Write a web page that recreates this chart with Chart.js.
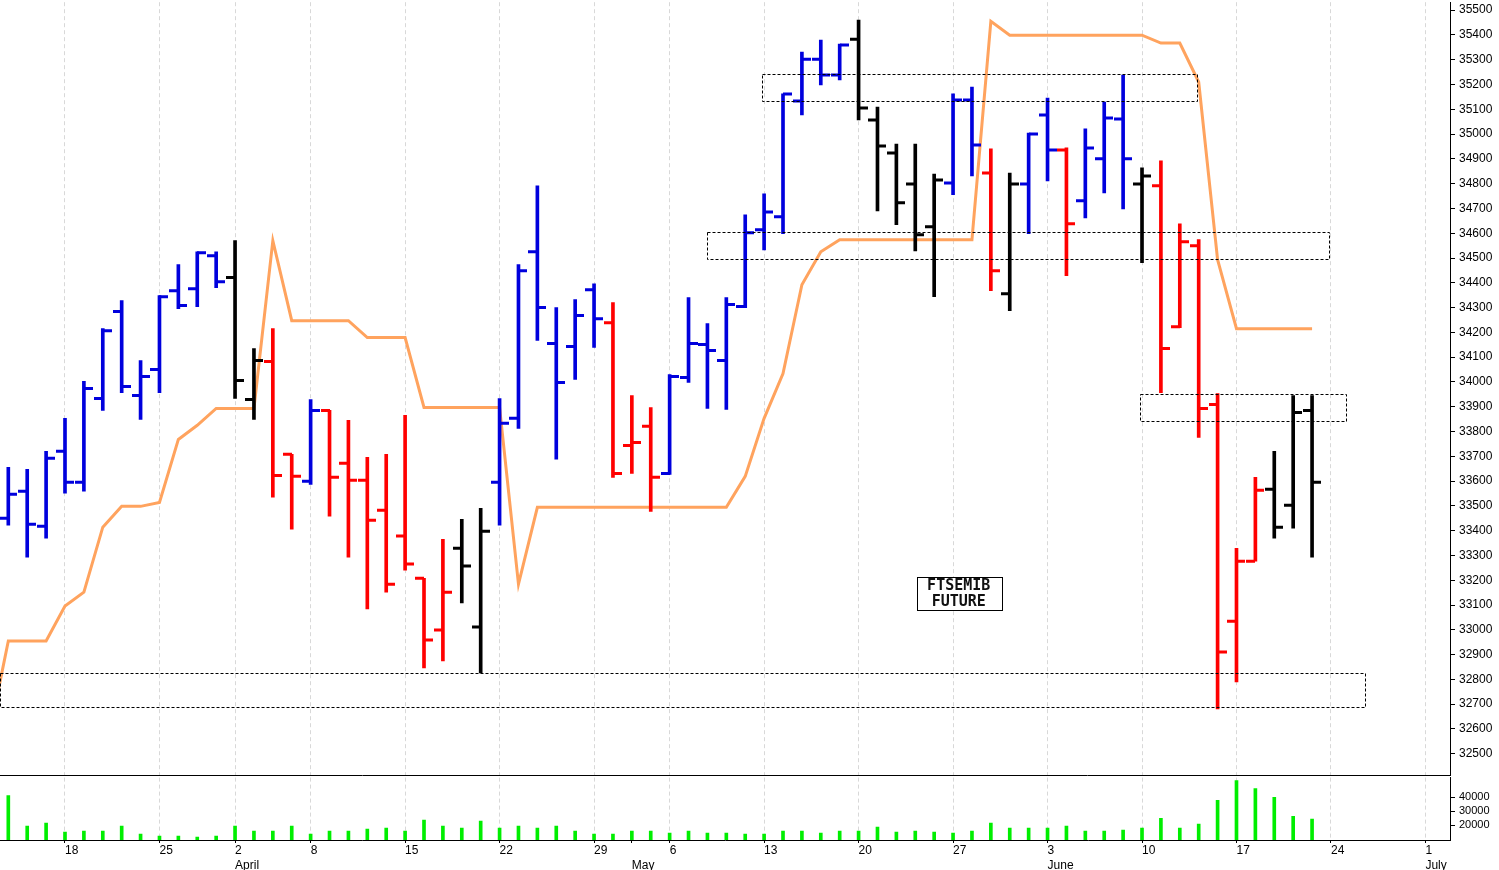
<!DOCTYPE html>
<html><head><meta charset="utf-8">
<script src="https://cdn.jsdelivr.net/npm/chart.js@4/dist/chart.umd.min.js"></script>
<style>
html,body{margin:0;padding:0;background:#fff;width:1499px;height:870px;overflow:hidden;position:relative}
canvas{position:absolute;left:0}
#main{top:-9px}
#vol{top:767px}
</style></head><body>
<canvas id="vol" width="1499" height="106"></canvas>
<canvas id="main" width="1499" height="796"></canvas>
<script>
// trading-day index 0 = 13 Mar 2024 ... 69 = 21 Jun 2024
const highs = [33655,33647,33720,33853,34002,34215,34328,34086,34348,34473,34525,34525,34570,34135,34215,33708,33929,33885,33845,33696,33708,33865,33208,33365,33446,33490,33933,34473,34791,34300,34332,34396,34320,33945,33897,34030,34340,34235,34340,34674,34759,35162,35331,35379,35363,35460,35109,34960,34960,34839,35162,35190,34940,34843,35004,35145,34944,35021,35129,35238,34864,34892,34638,34574,33953,33329,33615,33720,33945,33945];
const lows = [33422,33293,33370,33551,33559,33885,33957,33849,33957,34296,34304,34380,33933,33849,33535,33406,33587,33458,33293,33084,33152,33241,32846,32874,33108,32826,33422,33812,34167,33688,34010,34139,33615,33631,33478,33627,33998,33893,33889,34300,34533,34598,35077,35198,35218,35057,34690,34634,34529,34344,34755,34831,34368,34288,34598,34811,34429,34662,34763,34698,34481,33957,34219,33776,32681,32790,33277,33370,33410,33293];
const opens = [33450,33559,33418,33720,33595,33933,34284,33945,34050,34368,34376,34509,34421,33929,34082,33708,33599,33885,33672,33603,33482,33378,33208,32999,33329,33011,33595,33853,34525,34155,34143,34372,34239,33744,33821,33631,34018,34151,34086,34304,34614,34666,35133,35302,35238,35383,35057,34924,34799,34626,34803,35137,34843,34356,34799,35077,34936,34731,34900,35061,34799,34791,34223,34549,33909,33035,33277,33567,33502,33885];
const closes = [33547,33426,33692,33595,33974,34207,33982,34022,34344,34308,34521,34404,34006,34086,33623,33619,33885,33615,33603,33442,33184,33265,32959,33152,33257,33398,33833,34449,34300,33998,34268,34255,33631,33756,33615,34022,34155,34127,34312,34602,34686,35162,35302,35238,35359,35105,34952,34723,34594,34815,35137,34956,34449,34799,35000,34936,34638,34944,35065,34900,34831,34135,34566,33893,32910,33277,33563,33414,33877,33595];
const barColors = "BBBBBBBBBBBBKKRRBRRRRRRRKKBBBBBBRRRBBBBBBBBBBKKKKKBBRKBBRBBBKRRRRRRKKK";
// trendLine starts at index -1
const trendLine = [32580,32955,32955,32955,33096,33152,33414,33498,33498,33514,33768,33825,33893,33893,33893,34570,34247,34247,34247,34247,34179,34179,34179,33897,33897,33897,33897,33897,33184,33494,33494,33494,33494,33494,33494,33494,33494,33494,33494,33494,33619,33853,34034,34392,34525,34574,34574,34574,34574,34574,34574,34574,34574,35455,35399,35399,35399,35399,35399,35399,35399,35399,35367,35367,35210,34493,34215,34215,34215,34215,34215];
const volumes = [41400,19300,21400,15000,15700,15700,19300,13600,12100,12100,11400,12100,19300,15700,15700,19300,13600,15700,15700,17100,17900,15700,23600,19300,17900,22900,17900,19300,17900,19300,15700,13600,13600,15700,15700,14300,15700,14300,14300,13600,13600,15700,15700,14300,15700,15700,18600,15000,15700,15000,14300,15700,21400,17900,17900,17900,19300,15700,15700,16400,17900,25000,17900,20700,37900,52100,46400,40000,26400,24300];
const priceTicks = []; for (let p = 32500; p <= 35500; p += 100) priceTicks.push(p);
const volTicks = [20000,30000,40000];
const dateTickIdx = [3,8,12,16,21,26,31,33,35,40,45,50,55,60,65,70,75];
const dateTickDay = ['18','25','2','8','15','22','29','','6','13','20','27','3','10','17','24','1'];
const dateTickMonth = ['','','April','','','','','May','','','','','June','','','','July'];
const boxes = [ // [x0,x1,p0,p1] in trading-day index / price
  [39.9,62.9,35134,35242],[37.0,69.9,34497,34606],[59.9,70.8,33841,33950],[-0.44,71.8,32689,32826]];
const XMIN = -0.44, XMAX = 76.3;
const colMap = {B:'#0000dd', R:'#ff0000', K:'#000000'};

const ohlcPlugin = {
  id:'ohlc',
  afterDatasetsDraw(chart){
    const {ctx, scales:{x,y}, chartArea:a} = chart;
    ctx.save();
    ctx.beginPath(); ctx.rect(a.left,a.top,a.right-a.left,a.bottom-a.top); ctx.clip();
    ctx.lineWidth = 3; ctx.lineCap='butt';
    for (let i=0;i<opens.length;i++){
      const px = Math.round(x.getPixelForValue(i));
      ctx.strokeStyle = colMap[barColors[i]];
      ctx.beginPath();
      let yo = y.getPixelForValue(opens[i]), yc = y.getPixelForValue(closes[i]);
      ctx.moveTo(px-9, yo); ctx.lineTo(px, yo);
      ctx.moveTo(px, yc); ctx.lineTo(px+9, yc);
      ctx.stroke();
    }
    ctx.lineWidth = 1; ctx.strokeStyle = '#000'; ctx.setLineDash([3,2]);
    for (const b of boxes){
      const x0=x.getPixelForValue(b[0]), x1=x.getPixelForValue(b[1]);
      const y0=y.getPixelForValue(b[3]), y1=y.getPixelForValue(b[2]);
      ctx.strokeRect(Math.round(x0)+0.5, Math.round(y0)+0.5, Math.round(x1-x0), Math.round(y1-y0));
    }
    ctx.setLineDash([]);
    const cx = x.getPixelForValue(50.3), cy = y.getPixelForValue(33148);
    ctx.fillStyle='#fff'; ctx.fillRect(cx-42, cy-16, 85, 33);
    ctx.strokeStyle='#000'; ctx.lineWidth=1; ctx.strokeRect(Math.round(cx-42)+0.5, Math.round(cy-16)+0.5, 85, 33);
    ctx.fillStyle='#111'; ctx.font='bold 15px "DejaVu Sans Mono", monospace'; ctx.textAlign='center'; ctx.textBaseline='middle';
    ctx.fillText('FTSEMIB', cx, cy-7); ctx.fillText('FUTURE', cx, cy+9);
    ctx.restore();
    ctx.save(); ctx.strokeStyle='#000'; ctx.lineWidth=1;
    ctx.beginPath(); ctx.moveTo(0, Math.round(a.bottom)-0.5); ctx.lineTo(a.right, Math.round(a.bottom)-0.5); ctx.stroke();
    ctx.restore();
  }
};

const xCommon = () => ({
  type:'linear', min:XMIN, max:XMAX, offset:false,
  afterBuildTicks(s){ s.ticks = dateTickIdx.map(v=>({value:v})); },
  grid:{ offset:false, color:(c)=> (c.tick && c.tick.value===33) ? 'rgba(0,0,0,0)' : '#d8d8d8', drawTicks:false },
  border:{ display:false, dash:[4,3] }
});

const mainX = xCommon(); mainX.ticks = {display:false}; mainX.display = true;
new Chart(document.getElementById('main'), {
  type:'bar',
  data:{ datasets:[
    { type:'line', data: trendLine.map((v,i)=>({x:i-1,y:v})), borderColor:'#ffa35e', borderWidth:3, pointRadius:0, tension:0, order:2 },
    { type:'bar', data: highs.map((h,i)=>({x:i,y:[lows[i],h]})), backgroundColor: highs.map((h,i)=>colMap[barColors[i]]), barThickness:3, grouped:false, order:1 }
  ]},
  options:{
    responsive:false, animation:false, devicePixelRatio:1,
    plugins:{legend:{display:false}, tooltip:{enabled:false}},
    scales:{
      x: mainX,
      y:{ position:'right', min:32411, max:35532,
          afterBuildTicks(s){ s.ticks = priceTicks.map(v=>({value:v})); },
          afterFit(s){ s.width = 49; },
          grid:{ drawOnChartArea:false, tickLength:5, color:'#000' },
          border:{ display:true, color:'#000' },
          ticks:{ color:'#000', padding:4, font:{family:'"Liberation Sans", Arial', size:12}, callback:v=>String(v) } }
    }
  },
  plugins:[ohlcPlugin]
});

const volX = xCommon();
volX.grid.drawTicks = true; volX.grid.tickLength = 3; volX.grid.tickColor = '#000';
volX.border = {display:true, color:'#000', dash:[4,3]};
volX.ticks = { color:'#000', padding:0, align:'start', maxRotation:0, autoSkip:false,
  font:{family:'"Liberation Sans", Arial', size:12, lineHeight:1.25},
  callback:(v)=>{ const k = dateTickIdx.indexOf(v); return k<0 ? '' : [dateTickDay[k], dateTickMonth[k]]; } };
new Chart(document.getElementById('vol'), {
  type:'bar',
  data:{ datasets:[{ data: volumes.map((v,i)=>({x:i,y:v})), backgroundColor:'#00ee00', barThickness:3 }]},
  options:{
    responsive:false, animation:false, devicePixelRatio:1,
    plugins:{legend:{display:false}, tooltip:{enabled:false}},
    scales:{
      x: volX,
      y:{ position:'right', min:9286, max:54286,
          afterBuildTicks(s){ s.ticks = volTicks.map(v=>({value:v})); },
          afterFit(s){ s.width = 49; },
          grid:{ drawOnChartArea:false, tickLength:5, color:'#000' },
          border:{ display:true, color:'#000' },
          ticks:{ color:'#000', padding:4, font:{family:'"Liberation Sans", Arial', size:11}, callback:v=>String(v) } }
    }
  }
});
</script></body></html>
